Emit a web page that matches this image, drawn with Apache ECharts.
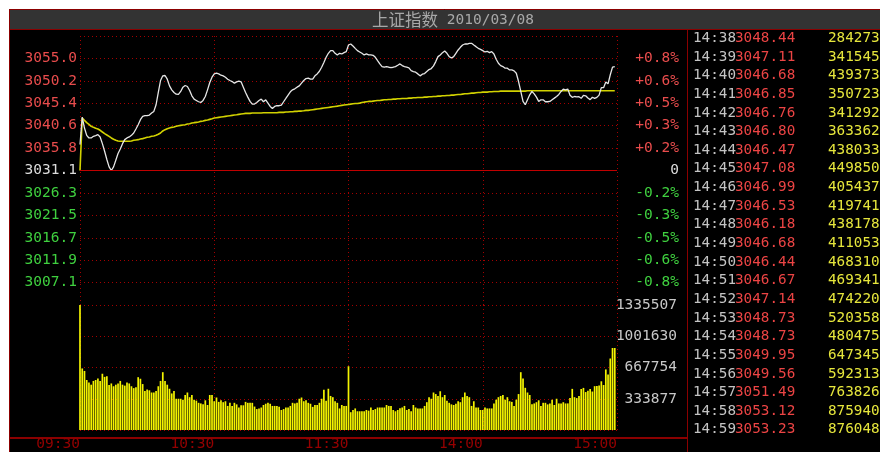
<!DOCTYPE html>
<html><head><meta charset="utf-8">
<script src="https://cdn.jsdelivr.net/npm/echarts@6/dist/echarts.min.js"></script>
<style>html,body{margin:0;padding:0;background:#fff;}#c{width:880px;height:452px;}</style>
</head><body><div id="c"></div>
<script>
// ---------------- data ----------------
const titleName = '上证指数';
const titleDate = '2010/03/08';
const prevClose = 3031.07;
const priceStep = 4.78;
const priceTickLabels = ['', '3007.1', '3011.9', '3016.7', '3021.5', '3026.3', '3031.1', '3035.8', '3040.6', '3045.4', '3050.2', '3055.0', ''];
const pctTickLabels = ['', '-0.8%', '-0.6%', '-0.5%', '-0.3%', '-0.2%', '0', '+0.2%', '+0.3%', '+0.5%', '+0.6%', '+0.8%', ''];
const volMax = 1335507;
const volTickLabels = ['', '333877', '667754', '1001630', '1335507'];
const timeTickLabels = {0: '09:30', 60: '10:30', 120: '11:30', 180: '14:00', 240: '15:00'};

const prices = [
3036.60,3042.47,3040.13,3038.57,3038.01,3038.01,3038.36,3038.50,3038.72,3038.22,
3036.80,3035.18,3033.41,3031.85,3031.07,3031.85,3033.26,3034.68,3035.67,3036.80,
3037.65,3038.01,3038.22,3038.57,3039.07,3039.92,3040.84,3041.90,3042.61,3042.75,
3042.75,3042.89,3043.32,3043.67,3045.09,3047.71,3050.26,3051.26,3051.33,3050.54,
3049.12,3048.27,3047.71,3047.35,3047.28,3047.92,3048.84,3049.19,3048.98,3048.13,
3047.00,3046.29,3046.01,3045.73,3045.58,3046.01,3046.86,3048.27,3049.83,3050.96,
3051.67,3051.81,3051.67,3051.39,3051.25,3050.96,3050.54,3050.26,3050.04,3049.69,
3049.97,3050.11,3049.97,3048.84,3047.71,3046.72,3045.80,3045.23,3045.23,3045.58,
3046.01,3046.29,3045.73,3046.15,3045.44,3044.73,3044.31,3044.73,3044.88,3044.88,
3045.02,3045.73,3046.43,3047.14,3047.85,3048.27,3048.49,3048.84,3049.12,3049.69,
3050.26,3050.68,3050.75,3050.54,3050.54,3051.25,3051.67,3052.24,3053.09,3054.08,
3055.21,3056.06,3056.63,3056.63,3056.06,3055.71,3056.06,3055.92,3056.20,3056.42,
3057.83,3058.04,3057.62,3057.12,3056.63,3056.35,3056.06,3055.71,3055.92,3055.71,
3055.71,3055.64,3055.21,3054.50,3053.80,3053.23,3053.09,3053.23,3053.09,3053.02,
3053.09,3053.23,3053.51,3053.80,3053.44,3053.23,3053.09,3052.95,3052.38,3052.17,
3052.03,3051.67,3051.25,3051.60,3051.74,3052.17,3052.59,3052.81,3053.37,3054.29,
3055.35,3055.71,3056.20,3056.56,3056.06,3055.35,3055.07,3055.35,3056.06,3056.77,
3057.34,3057.83,3058.04,3058.04,3058.19,3058.19,3057.83,3057.48,3057.12,3056.91,
3056.63,3056.35,3056.49,3056.20,3056.42,3055.92,3054.79,3053.94,3053.44,3053.23,
3052.88,3052.88,3052.52,3052.52,3052.31,3051.81,3050.04,3047.92,3045.80,3045.09,
3046.15,3047.21,3047.92,3047.42,3046.72,3045.80,3046.15,3046.15,3045.73,3045.73,
3045.80,3046.15,3046.50,3046.86,3047.28,3047.92,3048.42,3048.27,3048.44,3047.11,
3046.68,3046.85,3046.76,3046.80,3046.47,3047.08,3046.99,3046.53,3046.18,3046.68,
3046.44,3046.67,3047.14,3048.73,3048.73,3049.95,3049.56,3051.49,3053.12,3053.23
];

const avgPrices = [
3031.07,3042.26,3041.76,3041.27,3040.91,3040.49,3040.27,3040.06,3039.92,3039.64,
3039.28,3038.93,3038.65,3038.36,3038.01,3037.73,3037.51,3037.37,3037.30,3037.30,
3037.30,3037.30,3037.30,3037.37,3037.51,3037.58,3037.65,3037.80,3037.87,3038.01,
3038.15,3038.22,3038.36,3038.43,3038.57,3038.79,3039.07,3039.50,3039.78,3039.99,
3040.13,3040.27,3040.34,3040.49,3040.63,3040.70,3040.77,3040.84,3040.98,3041.05,
3041.19,3041.27,3041.34,3041.41,3041.55,3041.62,3041.76,3041.83,3041.97,3042.11,
3042.26,3042.33,3042.40,3042.47,3042.54,3042.61,3042.68,3042.75,3042.82,3042.89,
3042.96,3043.04,3043.11,3043.18,3043.25,3043.25,3043.25,3043.32,3043.32,3043.32,
3043.32,3043.32,3043.39,3043.39,3043.39,3043.39,3043.39,3043.39,3043.39,3043.46,
3043.46,3043.46,3043.53,3043.53,3043.60,3043.60,3043.67,3043.67,3043.74,3043.74,
3043.81,3043.89,3043.89,3043.96,3044.03,3044.10,3044.17,3044.24,3044.31,3044.38,
3044.45,3044.52,3044.59,3044.66,3044.73,3044.80,3044.88,3044.95,3045.02,3045.09,
3045.16,3045.23,3045.30,3045.37,3045.37,3045.44,3045.58,3045.65,3045.73,3045.80,
3045.80,3045.87,3045.94,3046.01,3046.01,3046.08,3046.15,3046.15,3046.22,3046.22,
3046.29,3046.29,3046.36,3046.36,3046.43,3046.43,3046.43,3046.50,3046.50,3046.58,
3046.58,3046.65,3046.65,3046.65,3046.72,3046.72,3046.79,3046.79,3046.86,3046.86,
3046.93,3046.93,3047.00,3047.00,3047.07,3047.07,3047.14,3047.14,3047.21,3047.28,
3047.28,3047.35,3047.42,3047.42,3047.50,3047.57,3047.57,3047.64,3047.71,3047.71,
3047.78,3047.78,3047.78,3047.85,3047.85,3047.92,3047.92,3047.92,3047.99,3047.99,
3047.99,3047.99,3047.99,3047.99,3047.99,3047.99,3047.99,3047.99,3047.99,3047.99,
3048.06,3048.06,3048.06,3048.06,3048.06,3048.06,3048.06,3048.06,3048.06,3048.06,
3048.06,3048.06,3048.06,3048.06,3048.06,3048.06,3048.06,3048.06,3048.06,3048.06,
3048.06,3048.06,3048.06,3048.06,3048.06,3048.06,3048.06,3048.06,3048.06,3048.06,
3048.06,3048.06,3048.06,3048.06,3048.06,3048.06,3048.06,3048.06,3048.06,3048.06
];

const volumes = [
1335507,657700,631000,534200,507500,484100,524200,534200,550900,524200,
601000,567600,574300,480800,497500,467400,484100,497500,524200,484100,
474100,507500,497500,467400,447400,457400,564300,547600,490800,417400,
434000,424000,400700,400700,417400,467400,524200,617700,524200,484100,
440700,390600,417400,333900,333900,333900,323900,373900,400700,350600,
373900,323900,313800,290500,283800,273800,317200,267100,373900,373900,
307200,347200,300500,317200,297200,307200,257100,290500,257100,290500,
273800,240400,263800,263800,300500,290500,290500,290500,250400,223700,
230400,240400,267100,280500,290500,280500,257100,257100,257100,247100,
213700,223700,240400,240400,257100,290500,283800,290500,333900,347200,
307200,317200,290500,280500,247100,267100,267100,290500,333900,430700,
313800,440700,363900,350600,307200,290500,230400,267100,257100,257100,
681100,190300,213700,230400,200300,200300,200300,200300,213700,207000,
240400,213700,223700,240400,240400,240400,240400,267100,257100,257100,
213700,200300,213700,233700,240400,257100,213700,223700,200300,267100,
240400,230400,230400,230400,257100,297200,350600,333900,400700,384000,
363900,414000,350600,373900,313800,290500,273800,267100,280500,307200,
297200,350600,400700,363900,350600,257100,307200,240400,240400,213700,
213700,240400,230400,230400,230400,283800,323900,350600,363900,373900,
323900,350600,307200,300500,257100,323900,384000,617700,550900,450700,
400700,373900,273800,283800,297200,317200,257100,290500,290500,273800,
283800,323900,267100,333900,283800,283800,297200,283800,284273,341545,
439373,350723,341292,363362,438033,449850,405437,419741,438178,411053,
468310,469341,474220,520358,480475,647345,592313,763826,875940,876048
];

const tableStart = 218; // 14:38 .. 14:59

// ---------------- build ----------------
function pad(n){ return (n < 10 ? '0' : '') + n; }
const categories = [];
for (let i = 0; i <= 240; i++) {
  let m = i <= 120 ? (9 * 60 + 30 + i) : (13 * 60 + (i - 120));
  categories.push(pad(Math.floor(m / 60)) + ':' + pad(m % 60));
}

const MONO = '"DejaVu Sans Mono", "Liberation Mono", monospace';
const DOT = '#a40000';
const BORDER = '#8b0000';
const dotted = { color: DOT, width: 1, type: [1, 3] };

function tickIndex(v){ return Math.round(v / priceStep) + 6; }
function styledLabel(list){
  return function(v){
    const k = tickIndex(v);
    const t = list[k];
    if (!t) return '';
    const s = k > 6 ? 'r' : (k < 6 ? 'g' : 'w');
    return '{' + s + '|' + t + '}';
  };
}
const labelRich = {
  r: { color: '#e84c4c', fontFamily: MONO, fontSize: 14.5 },
  g: { color: '#3fd03f', fontFamily: MONO, fontSize: 14.5 },
  w: { color: '#dcdcdc', fontFamily: MONO, fontSize: 14.5 }
};

const graphics = [
  { type: 'rect', shape: { x: 0, y: 0, width: 880, height: 9 }, style: { fill: '#fff' }, silent: true },
  { type: 'rect', shape: { x: 0, y: 0, width: 9, height: 452 }, style: { fill: '#fff' }, silent: true },
  { type: 'rect', shape: { x: 10, y: 10, width: 870, height: 19 }, style: { fill: '#333333' }, silent: true },
  { type: 'line', shape: { x1: 9, y1: 9.5, x2: 880, y2: 9.5 }, style: { stroke: BORDER, lineWidth: 1 }, silent: true },
  { type: 'line', shape: { x1: 9.5, y1: 9, x2: 9.5, y2: 452 }, style: { stroke: BORDER, lineWidth: 1 }, silent: true },
  { type: 'line', shape: { x1: 10, y1: 29.5, x2: 880, y2: 29.5 }, style: { stroke: BORDER, lineWidth: 1 }, silent: true },
  { type: 'line', shape: { x1: 687.5, y1: 30, x2: 687.5, y2: 452 }, style: { stroke: BORDER, lineWidth: 1 }, silent: true },
  { type: 'line', shape: { x1: 10, y1: 438, x2: 688, y2: 438 }, style: { stroke: BORDER, lineWidth: 2 }, silent: true },
  { type: 'text', x: 372, y: 20, silent: true,
    style: { text: '{c|' + titleName + '}{d| ' + titleDate + '}', verticalAlign: 'middle',
      rich: { c: { fontFamily: '"Noto Sans CJK SC"', fontSize: 16.5, fill: '#a8a8a8', color: '#a8a8a8' },
              d: { fontFamily: MONO, fontSize: 14.5, fill: '#a8a8a8', color: '#a8a8a8' } } } }
];
for (let r = 0; tableStart + r < prices.length; r++) {
  const i = tableStart + r;
  const y = 38.3 + r * 18.64;
  graphics.push({ type: 'text', x: 693, y: y, silent: true, z: 10,
    style: { text: categories[i], fill: '#c4c4c4', font: '14.3px ' + MONO, verticalAlign: 'middle' } });
  graphics.push({ type: 'text', x: 735, y: y, silent: true, z: 11,
    style: { text: prices[i].toFixed(2), fill: '#ec4444', font: '14.3px ' + MONO, verticalAlign: 'middle' } });
  graphics.push({ type: 'text', x: 828, y: y, silent: true, z: 10,
    style: { text: String(volumes[i]), fill: '#e6e63c', font: '14.3px ' + MONO, verticalAlign: 'middle' } });
}

const chart = echarts.init(document.getElementById('c'), null, { renderer: 'canvas' });
chart.setOption({
  backgroundColor: '#000',
  animation: false,
  grid: [
    { left: 80, right: 263, top: 36, height: 269 },
    { left: 80, right: 263, top: 305, height: 132.5 }
  ],
  xAxis: [
    { type: 'category', gridIndex: 0, data: categories, boundaryGap: false,
      axisLine: { show: false }, axisTick: { show: false }, axisLabel: { show: false },
      splitLine: { show: true, interval: (i) => i % 60 === 0, lineStyle: dotted } },
    { type: 'category', gridIndex: 1, data: categories, boundaryGap: false,
      axisLine: { show: false }, axisTick: { show: false },
      axisLabel: { show: true, interval: (i) => i % 60 === 0, formatter: (v, i) => timeTickLabels[i] || '',
        align: 'right', color: '#950000', fontFamily: MONO, fontSize: 14.5, margin: 7 },
      splitLine: { show: true, interval: (i) => i % 60 === 0, lineStyle: dotted } }
  ],
  yAxis: [
    { type: 'value', gridIndex: 0, position: 'left', min: -6 * priceStep, max: 6 * priceStep, interval: priceStep,
      axisLine: { show: false }, axisTick: { show: false },
      splitLine: { show: true, lineStyle: dotted },
      axisLabel: { formatter: styledLabel(priceTickLabels), rich: labelRich, margin: 3 } },
    { type: 'value', gridIndex: 0, position: 'right', min: -6 * priceStep, max: 6 * priceStep, interval: priceStep,
      axisLine: { show: false }, axisTick: { show: false }, splitLine: { show: false },
      axisLabel: { formatter: styledLabel(pctTickLabels), rich: labelRich, align: 'right', margin: 62 } },
    { type: 'value', gridIndex: 1, position: 'right', min: 0, max: volMax, interval: volMax / 4,
      axisLine: { show: false }, axisTick: { show: false },
      splitLine: { show: true, lineStyle: dotted },
      axisLabel: { formatter: (v) => volTickLabels[Math.round(v / (volMax / 4))] || '',
        align: 'right', margin: 60, color: '#c8c8c8', fontFamily: MONO, fontSize: 14.5 } }
  ],
  series: [
    { name: 'avg', type: 'line', xAxisIndex: 0, yAxisIndex: 0, z: 3,
      data: avgPrices.map(p => +(p - prevClose).toFixed(2)),
      showSymbol: false, symbol: 'none', lineStyle: { color: '#d2d200', width: 1.6 }, silent: true },
    { name: 'price', type: 'line', xAxisIndex: 0, yAxisIndex: 0, z: 4,
      data: prices.map(p => +(p - prevClose).toFixed(2)),
      showSymbol: false, symbol: 'none', lineStyle: { color: '#e6e6e6', width: 1.3 }, silent: true,
      markLine: { silent: true, symbol: ['none', 'none'], label: { show: false },
        lineStyle: { color: '#c00000', width: 1, type: 'solid' }, data: [{ yAxis: 0 }] } },
    { name: 'vol', type: 'bar', xAxisIndex: 1, yAxisIndex: 2, data: volumes, barWidth: 1.7,
      itemStyle: { color: '#f4f400' }, silent: true }
  ],
  graphic: graphics
});
</script>
</body></html>
